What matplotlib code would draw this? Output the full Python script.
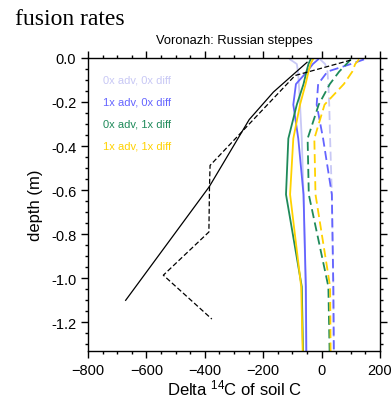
"""Delta 14C depth profiles for Voronazh (Russian steppes)."""
import matplotlib

matplotlib.use("Agg")
import numpy as np
from matplotlib import pyplot as plt
from matplotlib import rcParams
from matplotlib.ticker import MultipleLocator, FormatStrFormatter

rcParams["font.family"] = ["Liberation Sans", "DejaVu Sans"]
rcParams["mathtext.default"] = "regular"

# model node depths (m)
DEPTHS = [0.0071, 0.0279, 0.0623, 0.1189, 0.2122, 0.3661, 0.6198, 1.0380, 1.7276]

# solid profiles
lav_solid = [-108, -85, -81, -78, -74, -68, -62, -55, -51]
blue_solid = [-12, -30, -50, -88, -97, -80, -62, -54, -50]
green_solid = [-38, -45, -52, -62, -85, -114, -122, -68, -58]
gold_solid = [-30, -38, -45, -55, -74, -97, -108, -70, -58]
# dashed profiles
lav_dash = [-5, 12, 20, 23, 26, 29, 35, 40, 44]
blue_dash = [145, 100, 20, -12, -17, 5, 35, 40, 44]
green_dash = [100, 85, 60, 28, -10, -48, -44, 23, 33]
gold_dash = [128, 115, 105, 76, 10, -25, -21, 29, 33]

# black profiles
black_solid_x = [-50, -165, -248, -385, -671]
black_solid_d = [0.02, 0.155, 0.28, 0.585, 1.10]
black_dash_x = [100, -91, -382, -384, -386, -542, -376]
black_dash_d = [0.01, 0.08, 0.488, 0.59, 0.79, 0.986, 1.185]

LABELS = ["0x adv, 0x diff", "1x adv, 0x diff", "0x adv, 1x diff", "1x adv, 1x diff"]
COLORS = ["#c8c8f5", "#6464ff", "#1e8a5a", "#ffd200"]

fig = plt.figure(figsize=(3.91, 4.06), dpi=100)
ax = fig.add_axes([0.225, 0.133, 0.747, 0.722])

depth = -np.array(DEPTHS)
for xs, c in zip([lav_solid, blue_solid, green_solid, gold_solid], COLORS):
    ax.plot(xs, depth, color=c, lw=1.3)
for xs, c in zip([lav_dash, blue_dash, green_dash, gold_dash], COLORS):
    ax.plot(xs, depth, color=c, lw=1.3, dashes=(5, 2.5))
ax.plot(black_solid_x, -np.array(black_solid_d), color="k", lw=0.9)
ax.plot(black_dash_x, -np.array(black_dash_d), color="k", lw=0.9, dashes=(4, 2))

for i, (lab, c) in enumerate(zip(LABELS, COLORS)):
    ax.text(0.05, 0.926 - 0.075 * i, lab, color=c, fontsize=8,
            transform=ax.transAxes, ha="left", va="center")

ax.set_xlim(-800, 200)
ax.set_ylim(-1.33, 0)
ax.xaxis.set_major_locator(MultipleLocator(200))
ax.xaxis.set_minor_locator(MultipleLocator(50))
ax.yaxis.set_major_locator(MultipleLocator(0.2))
ax.yaxis.set_minor_locator(MultipleLocator(0.05))
ax.yaxis.set_major_formatter(FormatStrFormatter("%.1f"))
ax.tick_params(which="both", direction="out", top=True, right=True,
               labeltop=False, labelright=False, labelsize=10.5, width=1)
ax.tick_params(which="major", length=5)
ax.tick_params(which="minor", length=2.5)
for s in ax.spines.values():
    s.set_linewidth(1)

ax.set_xlabel("Delta $^{14}$C of soil C", fontsize=12, labelpad=0.5)
ax.set_ylabel("depth (m)", fontsize=12, labelpad=6)
ax.set_title("Voronazh: Russian steppes", fontsize=9.3, pad=10.5)
fig.text(15 / 391, 1 - 25 / 406, "fusion rates", family="Liberation Serif",
         fontsize=17, ha="left", va="baseline")

fig.savefig("out.png", dpi=100)
